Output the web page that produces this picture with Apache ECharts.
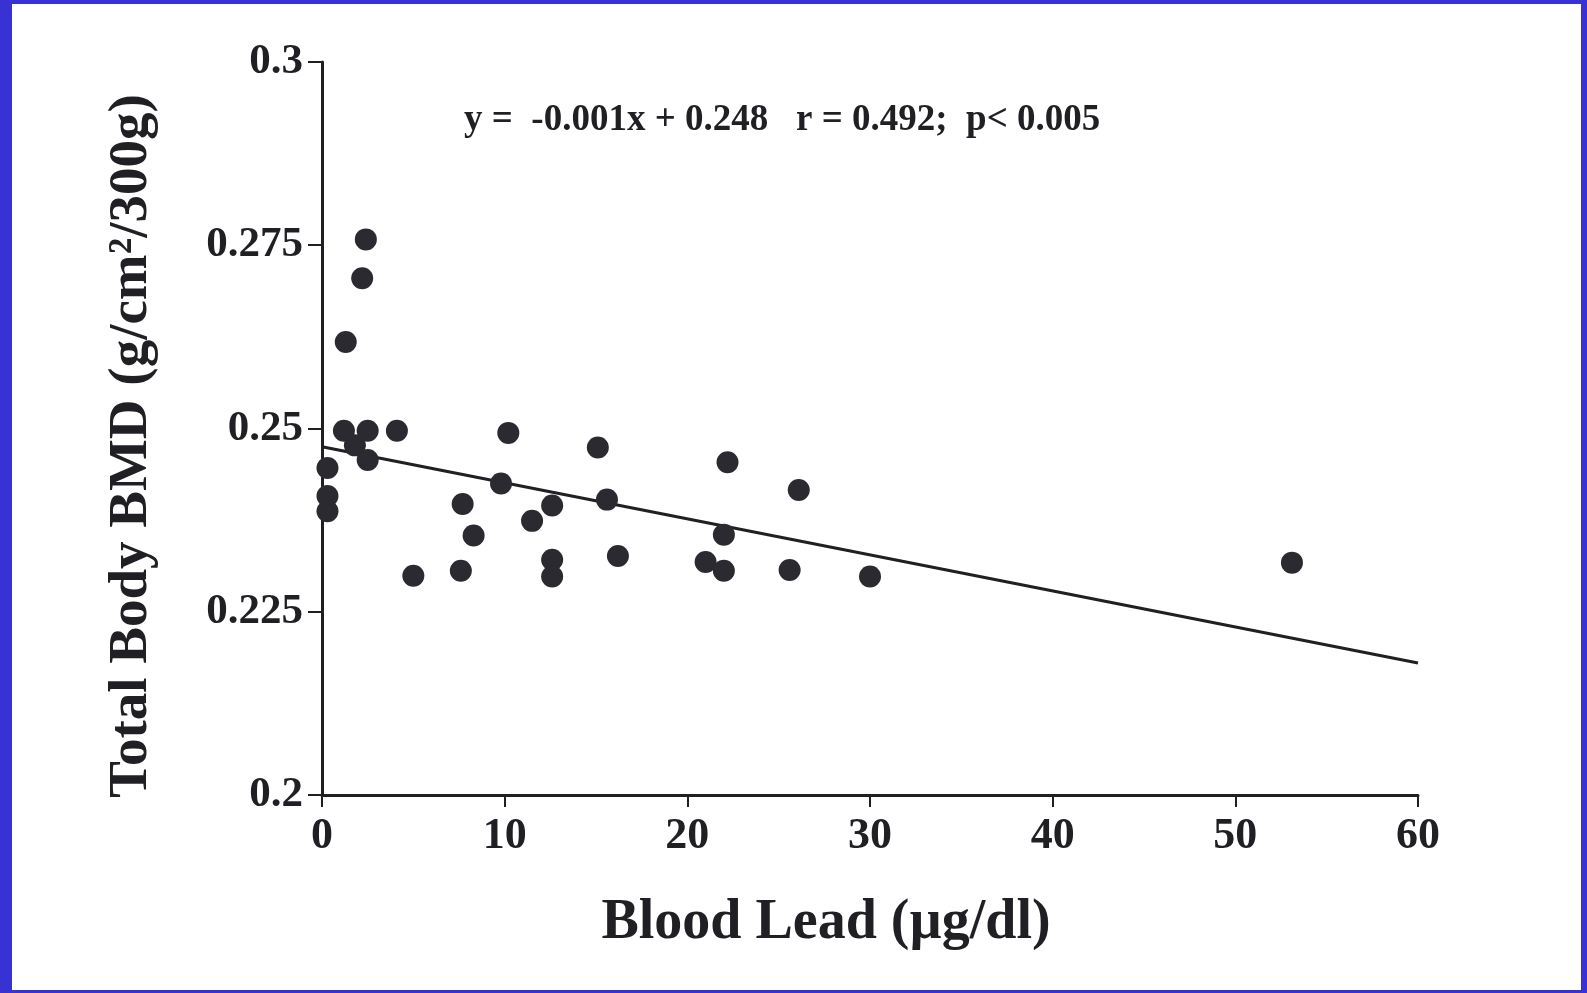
<!DOCTYPE html>
<html>
<head>
<meta charset="utf-8">
<script src="https://cdn.jsdelivr.net/npm/echarts@6/dist/echarts.min.js"></script>
<style>
  html, body { margin: 0; padding: 0; background: #3832d4; width: 1587px; height: 993px; overflow: hidden; }
  #frame { position: absolute; left: 12px; top: 4px; width: 1569px; height: 986px; background: #ffffff; }
  #chart { position: absolute; left: 0; top: 0; width: 1587px; height: 993px; }
</style>
</head>
<body>
<div id="frame"></div>
<div id="chart"></div>
<script>
// Blood lead (µg/dl)
const bloodLead = [2.4, 2.2, 1.3, 1.2, 2.5, 4.1, 1.8, 2.5, 0.3, 0.3, 0.3, 7.7, 8.3, 5.0, 7.6, 10.2,
                   9.8, 12.6, 11.5, 12.6, 12.6, 15.1, 15.6, 16.2, 22.2, 26.1, 22.0, 21.0, 22.0, 25.6, 30.0, 53.1];
// Total body BMD (g/cm2/300g)
const bmd = [0.2758, 0.2705, 0.2618, 0.2497, 0.2497, 0.2497, 0.2477, 0.2457, 0.2446, 0.2408, 0.2387, 0.2397,
             0.2354, 0.2299, 0.2306, 0.2494, 0.2425, 0.2395, 0.2374, 0.2321, 0.2298, 0.2474, 0.2403, 0.2326,
             0.2454, 0.2416, 0.2355, 0.2318, 0.2306, 0.2307, 0.2298, 0.2317];
// Regression line end points as drawn
const fitX = [0, 60];
const fitY = [0.2475, 0.2180];
const xTickLabels = ['0', '10', '20', '30', '40', '50', '60'];
const yTickLabels = ['0.2', '0.225', '0.25', '0.275', '0.3'];
const annotation = 'y =  -0.001x + 0.248   r = 0.492;  p< 0.005';
const xTitle = 'Blood Lead (\u00b5g/dl)';
const yTitle = 'Total Body BMD (g/cm\u00b2/300g)';

const ink = '#1f1f24';
const serif = '"Liberation Serif", "Times New Roman", serif';

const points = bloodLead.map((x, i) => [x, bmd[i]]);
const fit = fitX.map((x, i) => [x, fitY[i]]);

const chart = echarts.init(document.getElementById('chart'), null, { renderer: 'canvas' });
chart.setOption({
  backgroundColor: 'transparent',
  animation: false,
  grid: { left: 322, right: 169, top: 62, bottom: 198 },
  xAxis: {
    type: 'value', min: 0, max: 60, interval: 10,
    axisLine: { show: true, onZero: false, lineStyle: { color: ink, width: 3 } },
    axisTick: { show: true, inside: false, length: 12, lineStyle: { color: ink, width: 2 } },
    axisLabel: {
      margin: 20, color: ink, fontFamily: serif, fontWeight: 'bold', fontSize: 44,
      formatter: (v) => xTickLabels[Math.round(v / 10)]
    },
    splitLine: { show: false }
  },
  yAxis: {
    type: 'value', min: 0.2, max: 0.3, interval: 0.025,
    axisLine: { show: true, onZero: false, lineStyle: { color: ink, width: 3 } },
    axisTick: { show: true, inside: false, length: 14, lineStyle: { color: ink, width: 2 } },
    axisLabel: {
      margin: 19, color: ink, fontFamily: serif, fontWeight: 'bold', fontSize: 43,
      formatter: (v) => yTickLabels[Math.round((v - 0.2) / 0.025)]
    },
    splitLine: { show: false }
  },
  graphic: [
    { type: 'text', left: 464, top: 102, style: { text: annotation, fill: ink, font: 'bold 37px ' + serif } },
    { type: 'text', x: 826, y: 924, style: { text: xTitle, fill: ink, font: 'bold 56px ' + serif, align: 'center', verticalAlign: 'middle' } },
    { type: 'text', x: 132, y: 446, rotation: Math.PI / 2, style: { text: yTitle, fill: ink, font: 'bold 55px ' + serif, align: 'center', verticalAlign: 'middle' } }
  ],
  series: [
    { type: 'line', data: fit, showSymbol: false, symbol: 'none', lineStyle: { color: ink, width: 3 }, z: 2 },
    { type: 'scatter', data: points, symbol: 'circle', symbolSize: 22, itemStyle: { color: '#2a2a30', opacity: 1 }, z: 3 }
  ]
});
</script>
</body>
</html>
